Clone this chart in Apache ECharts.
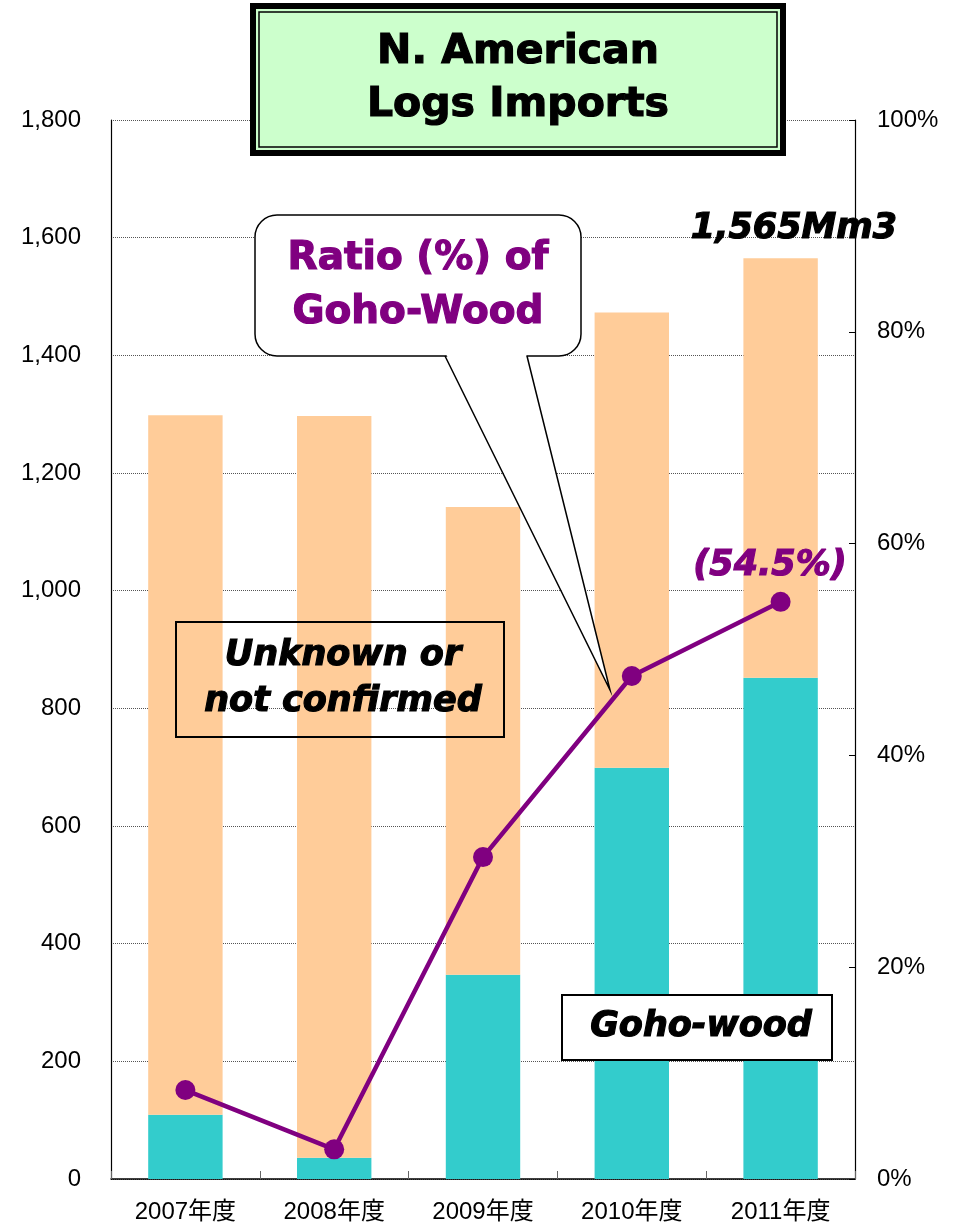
<!DOCTYPE html>
<html>
<head>
<meta charset="utf-8">
<script src="https://cdn.jsdelivr.net/npm/echarts@6/dist/echarts.min.js"></script>
<style>
  html, body { margin: 0; padding: 0; background: #fff; }
  #chart { width: 958px; height: 1225px; }
</style>
</head>
<body>
<div id="chart"></div>
<script>
// data
const years = ["2007年度", "2008年度", "2009年度", "2010年度", "2011年度"];
const gohoWood = [109, 36, 347, 699, 852];        // Goho-wood (Mm3)
const unknownWood = [1189, 1261, 795, 774, 713];  // unknown or not confirmed (Mm3)
const gohoRatio = [8.4, 2.8, 30.4, 47.5, 54.5];   // ratio of Goho-wood (%)

const plainFont = '"Liberation Sans", Arial, "Noto Sans CJK JP", sans-serif';
const heavyFont = '"DejaVu Sans", sans-serif';

// heavy text (stands in for Arial Black): bold + same-colour stroke
function heavyText(x, y, text, size, color, italic, lineHeight) {
  return {
    type: "text", z: 103, x: x, y: y,
    style: {
      text: text,
      fontFamily: heavyFont, fontWeight: "bold",
      fontStyle: italic ? "italic" : "normal",
      fontSize: size, lineHeight: lineHeight || size,
      fill: color, stroke: color, lineWidth: 1.2,
      align: "center", verticalAlign: "middle",
    },
  };
}

const chart = echarts.init(document.getElementById("chart"));

chart.setOption({
  animation: false,
  grid: { left: 111, right: 103, top: 120, bottom: 46 },
  xAxis: {
    type: "category",
    data: years,
    axisLine: { lineStyle: { color: "#000", width: 1.5 } },
    axisTick: { show: true, inside: true, length: 8, lineStyle: { color: "#666" } },
    axisLabel: { color: "#000", fontSize: 24, fontFamily: plainFont, margin: 21 },
  },
  yAxis: [
    {
      type: "value",
      min: 0,
      max: 1800,
      interval: 200,
      axisLine: { show: true, lineStyle: { color: "#000", width: 1.2 } },
      axisTick: { show: false },
      axisLabel: {
        color: "#000",
        fontSize: 24,
        fontFamily: plainFont,
        margin: 30,
        formatter: (v) => v.toLocaleString("en-US"),
      },
      splitLine: { lineStyle: { color: "#555", type: "dotted", width: 1 } },
    },
    {
      type: "value",
      min: 0,
      max: 100,
      interval: 20,
      position: "right",
      axisLine: { show: true, lineStyle: { color: "#000", width: 1.2 } },
      axisTick: { show: true, inside: true, length: 6, lineStyle: { color: "#000" } },
      axisLabel: {
        color: "#000",
        fontSize: 24,
        fontFamily: plainFont,
        margin: 22,
        formatter: "{value}%",
      },
      splitLine: { show: false },
    },
  ],
  series: [
    {
      name: "Goho-wood",
      type: "bar",
      stack: "total",
      barWidth: "50%",
      itemStyle: { color: "#33CCCC" },
      data: gohoWood,
    },
    {
      name: "Unknown or not confirmed",
      type: "bar",
      stack: "total",
      barWidth: "50%",
      itemStyle: { color: "#FFCC99" },
      data: unknownWood,
    },
    {
      name: "Ratio",
      type: "line",
      yAxisIndex: 1,
      symbol: "circle",
      symbolSize: 20,
      z: 5,
      lineStyle: { color: "#800080", width: 4.5 },
      itemStyle: { color: "#800080" },
      data: gohoRatio,
    },
  ],
  graphic: [
    // title box
    { type: "rect", z: 100, shape: { x: 250, y: 3, width: 536, height: 153 }, style: { fill: "#000" } },
    { type: "rect", z: 101, shape: { x: 256, y: 9, width: 524, height: 141 }, style: { fill: "#CCFFCC" } },
    { type: "rect", z: 102, shape: { x: 259, y: 12, width: 518, height: 135 }, style: { fill: "none", stroke: "#000", lineWidth: 1.5 } },
    heavyText(518, 79, "N. American\nLogs Imports", 41, "#000", false, 53),
    // callout for the ratio line
    { type: "rect", z: 100, shape: { x: 255, y: 215, width: 326, height: 141, r: 22 }, style: { fill: "#fff", stroke: "#000", lineWidth: 1.5 } },
    { type: "polygon", z: 101, shape: { points: [[446, 354], [526, 354], [610, 690]] }, style: { fill: "#fff" } },
    { type: "polyline", z: 102, shape: { points: [[445, 356], [610, 690], [527, 356]] }, style: { fill: "none", stroke: "#000", lineWidth: 1.5 } },
    heavyText(418, 286, "Ratio (%) of\nGoho-Wood", 39, "#800080", false, 54),
    // total label
    heavyText(794, 229, "1,565Mm3", 35, "#000", true),
    // last ratio label
    heavyText(770, 566, "(54.5%)", 35, "#800080", true),
    // unknown box (no fill)
    { type: "rect", z: 100, shape: { x: 176, y: 622, width: 328, height: 115 }, style: { fill: "none", stroke: "#000", lineWidth: 2 } },
    heavyText(343, 679, "Unknown or\nnot confirmed", 35, "#000", true, 46),
    // goho-wood box
    { type: "rect", z: 100, shape: { x: 562, y: 995, width: 270, height: 65 }, style: { fill: "#fff", stroke: "#000", lineWidth: 2 } },
    heavyText(701, 1027, "Goho-wood", 35, "#000", true),
  ],
});

window.addEventListener("resize", () => {
  chart.resize();
});
</script>
</body>
</html>
